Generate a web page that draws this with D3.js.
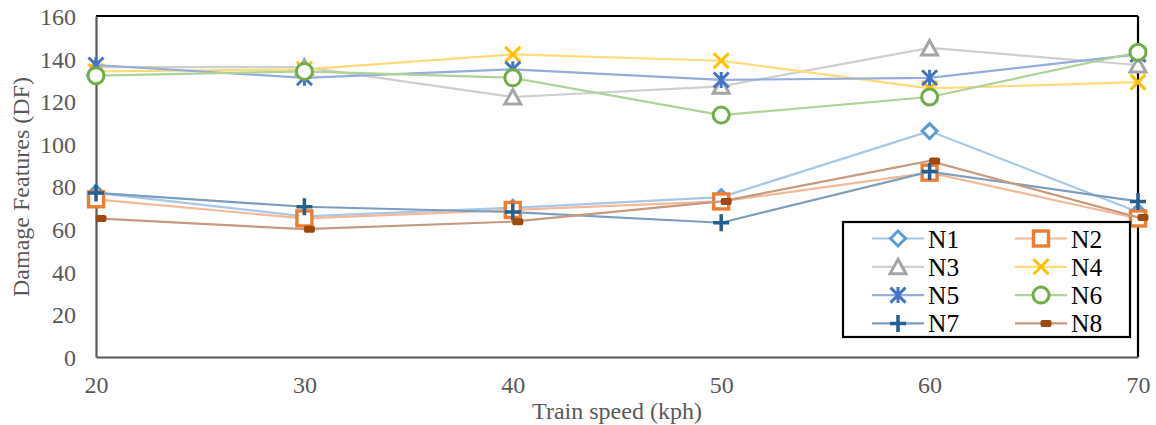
<!DOCTYPE html>
<html>
<head>
<meta charset="utf-8">
<script src="https://cdn.jsdelivr.net/npm/d3@7"></script>
<style>
html,body{margin:0;padding:0;background:#fff;}
svg{display:block;font-family:"Liberation Serif","Times New Roman",serif;}
</style>
</head>
<body>
<svg id="chart" width="1156" height="425"></svg>
<script>
const speeds = [20, 30, 40, 50, 60, 70];
const xTicks = [20, 30, 40, 50, 60, 70];
const yTicks = [0, 20, 40, 60, 80, 100, 120, 140, 160];
const seriesNames = ["N1","N2","N3","N4","N5","N6","N7","N8"];
const N1 = [77, 66, 70, 75, 106, 68];
const N2 = [74, 65, 69, 73, 86.5, 65];
const N3 = [136, 136, 122, 127, 145, 137];
const N4 = [134, 135, 142, 139, 126, 129];
const N5 = [137, 131, 135, 130, 131, 142];
const N6 = [132, 134, 131, 113.5, 122, 143];
const N7 = [77, 70.5, 68, 63, 87, 73];
const N8 = [65, 60, 63.5, 73, 92, 65.5];
const seriesValues = [N1, N2, N3, N4, N5, N6, N7, N8];
const markerTypes = ["diamond","square","triangle","x","star","circle","plus","dash"];
const markerColors = ["#5B9BD5","#ED7D31","#A5A5A5","#FFC000","#4472C4","#70AD47","#255E91","#9E480E"];
const lineColors = ["#A6C8E8","#F5B998","#CFCFCF","#FFDC78","#93ADDD","#AED397","#7D9DBF","#C69A7E"];

const svg = d3.select("#chart");
const m = {l: 96, r: 1138, t: 16, b: 357};
const x = d3.scaleLinear().domain([20, 70]).range([m.l, m.r]);
const y = d3.scaleLinear().domain([0, 160]).range([m.b, m.t]);

// borders
svg.append("line").attr("x1", m.l).attr("x2", m.r).attr("y1", m.t).attr("y2", m.t)
  .attr("stroke", "#000").attr("stroke-width", 2.2);
svg.append("line").attr("x1", m.r).attr("x2", m.r).attr("y1", m.t).attr("y2", m.b)
  .attr("stroke", "#000").attr("stroke-width", 2.2);

// axes
const yAxis = d3.axisLeft(y).tickValues(yTicks).tickSize(0).tickPadding(20);
const gy = svg.append("g").attr("transform", `translate(${m.l},0)`).call(yAxis);
gy.select(".domain").attr("stroke", "#595959").attr("stroke-width", 2.2);
gy.selectAll("text").attr("font-size", 24).attr("fill", "#595959")
  .attr("font-family", "Liberation Serif").attr("dy", "0.35em");

const xAxis = d3.axisBottom(x).tickValues(xTicks).tickSize(0).tickPadding(19);
const gx = svg.append("g").attr("transform", `translate(0,${m.b})`).call(xAxis);
gx.select(".domain").attr("stroke", "#595959").attr("stroke-width", 2.2);
gx.selectAll("text").attr("font-size", 24).attr("fill", "#595959")
  .attr("font-family", "Liberation Serif");

svg.append("text").attr("x", (m.l + m.r) / 2).attr("y", 419)
  .attr("text-anchor", "middle").attr("font-size", 24).attr("fill", "#595959")
  .text("Train speed (kph)");
svg.append("text").attr("transform", "translate(29,187) rotate(-90)")
  .attr("text-anchor", "middle").attr("font-size", 24).attr("fill", "#595959")
  .text("Damage Features (DF)");

function drawMarker(g, type, cx, cy, color) {
  const sw = 3;
  if (type === "diamond") {
    g.append("path").attr("d", `M${cx},${cy-7.5}L${cx+7.5},${cy}L${cx},${cy+7.5}L${cx-7.5},${cy}Z`)
      .attr("fill", "#fff").attr("stroke", color).attr("stroke-width", sw);
  } else if (type === "square") {
    g.append("rect").attr("x", cx - 7.5).attr("y", cy - 7.5).attr("width", 15).attr("height", 15)
      .attr("fill", "#fff").attr("stroke", color).attr("stroke-width", 3.4);
  } else if (type === "triangle") {
    g.append("path").attr("d", `M${cx},${cy-7.5}L${cx+8},${cy+7}L${cx-8},${cy+7}Z`)
      .attr("fill", "#fff").attr("stroke", color).attr("stroke-width", sw).attr("stroke-linejoin", "miter");
  } else if (type === "x") {
    g.append("path").attr("d", `M${cx-7.5},${cy-7.5}L${cx+7.5},${cy+7.5}M${cx+7.5},${cy-7.5}L${cx-7.5},${cy+7.5}`)
      .attr("stroke", color).attr("stroke-width", sw);
  } else if (type === "star") {
    g.append("path").attr("d", `M${cx-7.5},${cy-7.5}L${cx+7.5},${cy+7.5}M${cx+7.5},${cy-7.5}L${cx-7.5},${cy+7.5}M${cx},${cy-8}L${cx},${cy+8}`)
      .attr("stroke", color).attr("stroke-width", sw);
  } else if (type === "circle") {
    g.append("circle").attr("cx", cx).attr("cy", cy).attr("r", 8)
      .attr("fill", "#fff").attr("stroke", color).attr("stroke-width", sw);
  } else if (type === "plus") {
    g.append("path").attr("d", `M${cx-8},${cy}L${cx+8},${cy}M${cx},${cy-8.5}L${cx},${cy+8.5}`)
      .attr("stroke", color).attr("stroke-width", 3.5);
  } else if (type === "dash") {
    g.append("rect").attr("x", cx - 0.5).attr("y", cy - 3.5).attr("width", 11).attr("height", 7)
      .attr("rx", 2).attr("fill", color);
  }
}

const line = d3.line().x((d, i) => x(speeds[i])).y(d => y(d));
seriesValues.forEach((vals, si) => {
  const g = svg.append("g");
  g.append("path").datum(vals).attr("d", line).attr("fill", "none")
    .attr("stroke", lineColors[si]).attr("stroke-width", 2.2);
  vals.forEach((v, i) => drawMarker(g, markerTypes[si], x(speeds[i]), y(v), markerColors[si]));
});

// legend
const lg = svg.append("g");
lg.append("rect").attr("x", 843).attr("y", 222).attr("width", 287).attr("height", 115)
  .attr("fill", "#fff").attr("stroke", "#000").attr("stroke-width", 2.2);
const colX = [872, 1015];
const rowY = [238.5, 266.8, 295.1, 323.4];
seriesNames.forEach((name, i) => {
  const c = i % 2, r = Math.floor(i / 2);
  const lx = colX[c], ly = rowY[r];
  lg.append("line").attr("x1", lx).attr("x2", lx + 52).attr("y1", ly).attr("y2", ly)
    .attr("stroke", lineColors[i]).attr("stroke-width", 2.2);
  drawMarker(lg, markerTypes[i], lx + 26, ly, markerColors[i]);
  lg.append("text").attr("x", lx + 56).attr("y", ly + 9).attr("font-size", 25.5)
    .attr("fill", "#000").text(name);
});
</script>
</body>
</html>
